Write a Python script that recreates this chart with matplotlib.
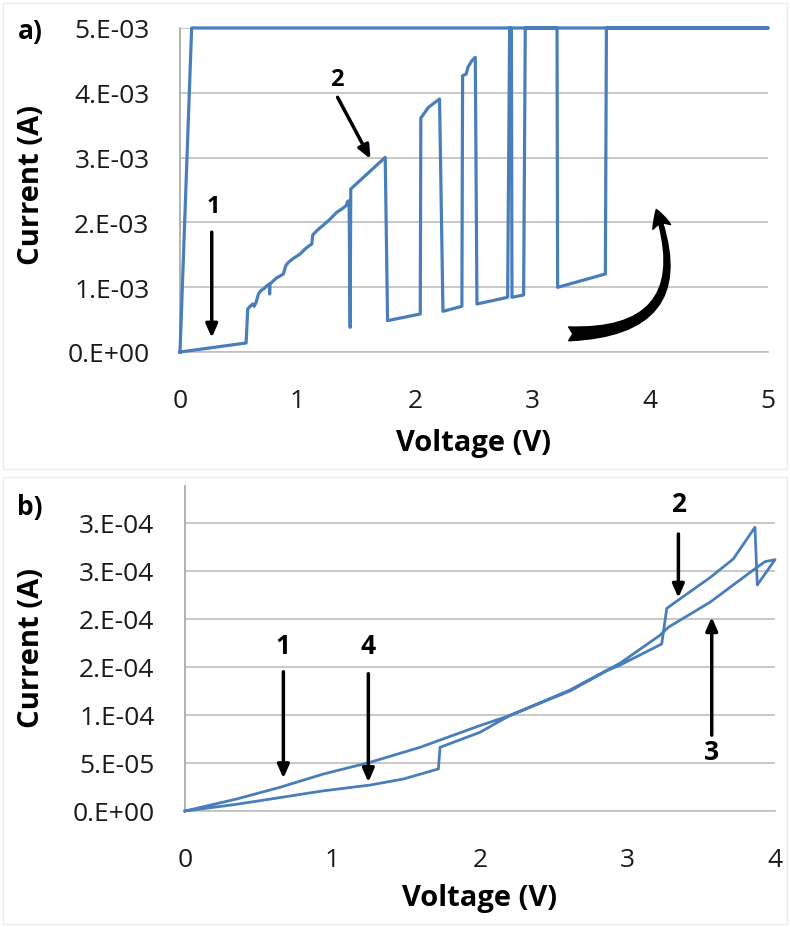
import numpy as np
import matplotlib
matplotlib.use("Agg")
import matplotlib.pyplot as plt
from matplotlib.patches import Rectangle

plt.rcParams['font.family'] = ['Open Sans', 'DejaVu Sans']

# ---- data, panel a) : one sweep, current in A ----
volt_a = [0, 0.562, 0.576, 0.596, 0.618, 0.630, 0.647, 0.667, 0.687, 0.718, 0.738,
          0.760, 0.762, 0.765, 0.780, 0.817, 0.879, 0.899, 0.922, 0.965, 1.021, 1.064,
          1.092, 1.121, 1.129, 1.163, 1.220, 1.277, 1.333, 1.376, 1.413, 1.424, 1.438,
          1.447, 1.452, 1.745, 1.765, 2.043, 2.048, 2.113, 2.207, 2.236, 2.397, 2.403,
          2.434, 2.448, 2.482, 2.511, 2.525, 2.786, 2.803, 2.818, 2.823, 2.922, 2.936,
          3.206, 3.211, 3.617, 3.626, 5.0, 0.099, 0.0]
curr_a = [0, 0.139, 0.664, 0.705, 0.741, 0.705, 0.767, 0.895, 0.946, 0.983, 1.023,
          1.049, 0.895, 1.049, 1.075, 1.137, 1.204, 1.332, 1.384, 1.446, 1.512, 1.590,
          1.631, 1.667, 1.806, 1.872, 1.960, 2.052, 2.156, 2.207, 2.258, 2.320, 2.335,
          0.381, 2.515, 3.004, 0.484, 0.586, 3.611, 3.776, 3.904, 0.628, 0.705, 4.264,
          4.290, 4.393, 4.496, 4.547, 0.741, 0.844, 5.0, 5.0, 0.844, 0.880, 5.0,
          5.0, 0.998, 1.204, 5.0, 5.0, 5.0, 0]
curr_a = [c * 1e-3 for c in curr_a]
yticks_a = [0, 1e-3, 2e-3, 3e-3, 4e-3, 5e-3]
ylabels_a = ["0.E+00", "1.E-03", "2.E-03", "3.E-03", "4.E-03", "5.E-03"]

# ---- data, panel b) ----
volt_b = [0, 0.350, 0.644, 0.938, 1.254, 1.593, 2.0, 2.2, 2.61, 2.859, 2.95, 3.232,
          3.266, 3.356, 3.559, 3.717, 3.864, 3.880, 4.0,
          3.932, 3.853, 3.559, 3.277, 3.22, 2.95, 2.61, 2.2, 2.0, 1.729, 1.718,
          1.48, 1.254, 0.938, 0.644, 0.350, 0]
curr_b = [0, 1.25, 2.47, 3.85, 5.07, 6.63, 8.9, 9.93, 12.5, 14.6, 15.2, 17.4,
          21.1, 22.1, 24.3, 26.25, 29.55, 23.54, 26.18,
          25.97, 25.1, 21.74, 19.14, 18.3, 15.4, 12.6, 9.93, 8.2, 6.63, 4.38,
          3.33, 2.7, 2.1, 1.4, 0.7, 0]
curr_b = [c * 1e-5 for c in curr_b]
yticks_b = [0, 5e-5, 1e-4, 1.5e-4, 2e-4, 2.5e-4, 3e-4]
ylabels_b = ["0.E+00", "5.E-05", "1.E-04", "2.E-04", "2.E-04", "3.E-04", "3.E-04"]

# annotation arrows: (label, label xy, arrow start, arrow tip)
notes_a = [("1", (0.28, 2.25e-3), (0.27, 1.85e-3), (0.27, 0.22e-3)),
           ("2", (1.33, 4.21e-3), (1.34, 3.93e-3), (1.62, 2.98e-3))]
notes_b = [("1", (0.667, 1.72e-4), (0.667, 1.45e-4), (0.667, 3.4e-5)),
           ("4", (1.243, 1.72e-4), (1.243, 1.43e-4), (1.243, 3.0e-5)),
           ("2", (3.345, 3.20e-4), (3.345, 2.885e-4), (3.345, 2.22e-4)),
           ("3", (3.571, 6.2e-5), (3.571, 7.9e-5), (3.571, 2.02e-4))]

blue = "#4A7EBB"
grid = "#BFBFBF"

fig = plt.figure(figsize=(7.9, 9.28), dpi=100)
ax1 = fig.add_axes([180/790, 1 - 353/928, 588/790, 324/928])
ax2 = fig.add_axes([185/790, 1 - 812/928, 590/790, 325/928])


def style(ax, yticks, ylabels):
    ax.set_yticks(yticks)
    ax.set_yticklabels(ylabels)
    ax.grid(axis='y', color=grid, lw=1.2)
    ax.set_axisbelow(True)
    for s in ['top', 'right']:
        ax.spines[s].set_visible(False)
    ax.spines['left'].set_color("#A6A6A6")
    ax.spines['bottom'].set_color(grid)
    ax.spines['left'].set_linewidth(1.2)
    ax.spines['bottom'].set_linewidth(1.2)
    ax.tick_params(length=0, labelsize=19, colors="#1a1a1a")
    ax.tick_params(axis='y', pad=22)
    ax.tick_params(axis='x', pad=26)


def add_notes(ax, notes, size):
    for txt, lxy, start, tip in notes:
        ax.text(lxy[0], lxy[1], txt, ha='center', va='center', fontsize=size, fontweight='bold')
        ax.annotate("", xy=tip, xytext=start,
                    arrowprops=dict(arrowstyle='-|>,head_length=0.8,head_width=0.35',
                                    lw=2.5, color='black', shrinkA=0, shrinkB=0))


# panel a
ax1.plot(volt_a, curr_a, color=blue, lw=2.3, clip_on=False, zorder=3)
ax1.set_xlim(0, 5)
ax1.set_ylim(0, 5e-3)
ax1.set_xticks([0, 1, 2, 3, 4, 5])
style(ax1, yticks_a, ylabels_a)
add_notes(ax1, notes_a, 17)
ax1.annotate("", xy=(4.05, 2.2e-3), xytext=(3.305, 0.28e-3),
             arrowprops=dict(arrowstyle='fancy,head_length=0.6,head_width=0.6,tail_width=0.45',
                             connectionstyle='arc3,rad=0.7', color='black',
                             mutation_scale=22, shrinkA=0, shrinkB=0))
ax1.set_xlabel("Voltage (V)", fontsize=21, fontweight='bold')
ax1.set_ylabel("Current (A)", fontsize=21, fontweight='bold')
ax1.xaxis.set_label_coords(0.5, -0.235)
ax1.yaxis.set_label_coords(-0.228, 0.52)

# panel b
ax2.plot(volt_b, curr_b, color=blue, lw=2.0, clip_on=False, zorder=3)
ax2.set_xlim(0, 4)
ax2.set_ylim(0, 3.385e-4)
ax2.set_xticks([0, 1, 2, 3, 4])
style(ax2, yticks_b, ylabels_b)
add_notes(ax2, notes_b, 19)
ax2.set_xlabel("Voltage (V)", fontsize=21, fontweight='bold')
ax2.set_ylabel("Current (A)", fontsize=21, fontweight='bold')
ax2.xaxis.set_label_coords(0.5, -0.222)
ax2.yaxis.set_label_coords(-0.236, 0.505)

fig.text(30/790, 1 - 32/928, "a)", ha='center', va='center', fontsize=19, fontweight='bold')
fig.text(30/790, 1 - 507/928, "b)", ha='center', va='center', fontsize=19, fontweight='bold')

# faint chart-area borders
for y0, h in [(928 - 470, 466), (928 - 925, 447)]:
    fig.patches.append(Rectangle((3/790, y0/928), 784/790, h/928, transform=fig.transFigure,
                                 fill=False, edgecolor="#EDEDED", lw=1))

fig.savefig("out.png", dpi=100)
